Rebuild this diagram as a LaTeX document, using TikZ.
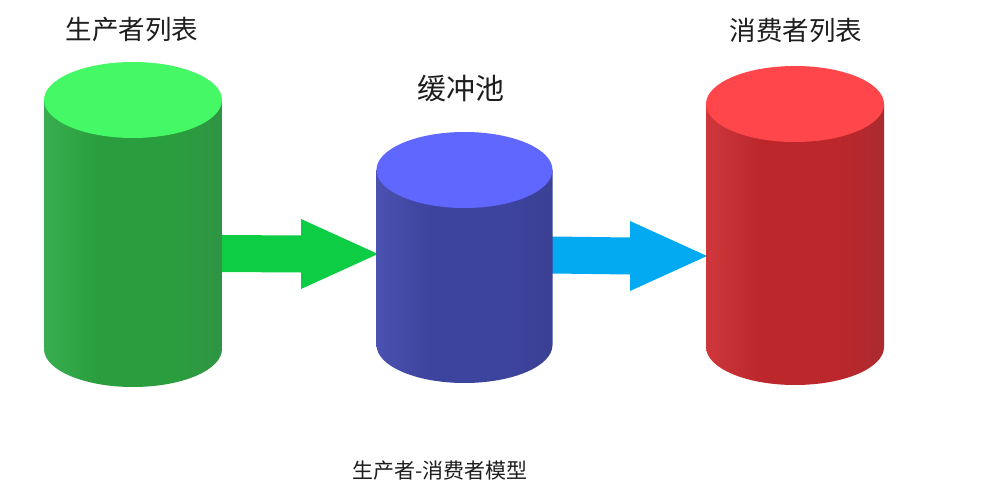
\documentclass[tikz,border=0pt]{standalone}
\usepackage{fontspec}
\setmainfont{Noto Sans CJK SC}
\usetikzlibrary{calc}
\definecolor{gTop}{HTML}{45F866}
\definecolor{gL}{HTML}{38AE50}
\definecolor{gM}{HTML}{2A9E3E}
\definecolor{gR}{HTML}{2F9443}
\definecolor{bTop}{HTML}{5F67FF}
\definecolor{bL}{HTML}{4A51B0}
\definecolor{bM}{HTML}{3D449E}
\definecolor{bR}{HTML}{3A4092}
\definecolor{rTop}{HTML}{FF474B}
\definecolor{rL}{HTML}{CE383C}
\definecolor{rM}{HTML}{BC272B}
\definecolor{rR}{HTML}{AA2B2F}
\definecolor{gArrow}{HTML}{0DCD44}
\definecolor{bArrow}{HTML}{03A9F1}
\definecolor{txt}{HTML}{1E1E1E}
\pgfdeclarehorizontalshading{greenbody}{100bp}{color(0bp)=(gL); color(25bp)=(gL); color(40bp)=(gM); color(62bp)=(gM); color(75bp)=(gR); color(100bp)=(gR)}
\pgfdeclarehorizontalshading{bluebody}{100bp}{color(0bp)=(bL); color(25bp)=(bL); color(40bp)=(bM); color(62bp)=(bM); color(75bp)=(bR); color(100bp)=(bR)}
\pgfdeclarehorizontalshading{redbody}{100bp}{color(0bp)=(rL); color(25bp)=(rL); color(40bp)=(rM); color(62bp)=(rM); color(75bp)=(rR); color(100bp)=(rR)}
% cx, top y, bottom y, rx, ry, body shading, top colour
\newcommand\mycyl[7]{%
  \shade[shading=#6] (#1-#4,#2) -- (#1-#4,#3) arc[start angle=180,end angle=0,x radius=#4,y radius=#5] -- (#1+#4,#2) -- cycle;
  \fill[#7] (#1,#2) ellipse[x radius=#4,y radius=#5];
}
\newcommand\myblockarrow[3]{%
  \fill[#1] ($(#2)+(0,-18.5)$) -- ($(#3)+(-77,-18.5)$) -- ($(#3)+(-77,-35)$) -- (#3) -- ($(#3)+(-77,35)$) -- ($(#3)+(-77,18.5)$) -- ($(#2)+(0,18.5)$) -- cycle;
}
\tikzset{
  lbl/.style={text=txt,inner sep=0pt,anchor=center},
}
\begin{document}
\begin{tikzpicture}[x=1pt,y=-1pt]
\useasboundingbox[fill=white] (0,0) rectangle (1000,486);
% edge coordinates of the cylinders
\coordinate (prodR) at (222,253.5);
\coordinate (bufL) at (378,254);
\coordinate (bufR) at (552,255);
\coordinate (consL) at (707,256);
% arrows
\myblockarrow{gArrow}{prodR}{bufL}
\myblockarrow{bArrow}{bufR}{consL}
% cylinders
\mycyl{133}{100}{349}{89}{38}{greenbody}{gTop}
\mycyl{464.5}{170}{345}{88}{38}{bluebody}{bTop}
\mycyl{795}{104}{347}{89}{38}{redbody}{rTop}
% labels
\node[lbl,font=\fontsize{26.5pt}{30pt}\selectfont] (prod) at (132,30) {生产者列表};
\node[lbl,font=\fontsize{29pt}{32pt}\selectfont] (buf) at (461,89) {缓冲池};
\node[lbl,font=\fontsize{26.5pt}{30pt}\selectfont] (cons) at (796,30) {消费者列表};
\node[lbl,font=\fontsize{21pt}{25pt}\selectfont] (title) at (440,471) {生产者-消费者模型};
\end{tikzpicture}
\end{document}
